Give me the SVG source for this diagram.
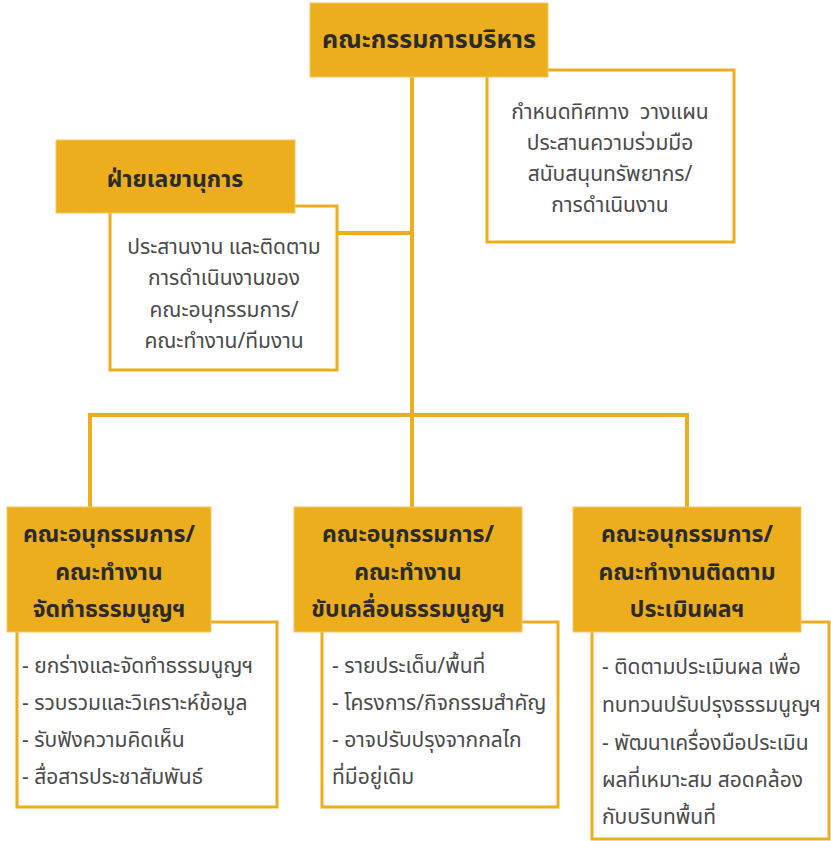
<svg xmlns="http://www.w3.org/2000/svg" width="831" height="841" viewBox="0 0 831 841">
<style>
.conn{stroke:#EDAE1E;stroke-width:4;fill:none}
.ob{fill:#EDAE1E;stroke:#F3C75E;stroke-width:1}
.wb{fill:#fff;stroke:#EDAE1E;stroke-width:3}
.h{font-family:"Noto Sans Thai","Noto Sans","DejaVu Sans",sans-serif;font-weight:bold;fill:#2b2b2b;text-anchor:middle}
.b{font-family:"Noto Sans Thai","Noto Sans","DejaVu Sans",sans-serif;fill:#4a4a4a;font-size:21px}
.c{text-anchor:middle}
</style>
<rect width="831" height="841" fill="#fff"/>
<g id="connectors">
<line class="conn" x1="412" y1="77" x2="412" y2="415"/>
<line class="conn" x1="337" y1="233" x2="412" y2="233"/>
<polyline class="conn" points="90,507 90,415 687,415 687,507"/>
<line class="conn" x1="412" y1="415" x2="412" y2="507"/>
</g>
<g id="board-desc">
<rect class="wb" x="487" y="70" width="247" height="172"/>
<text class="b c" x="610" y="119" xml:space="preserve">กำหนดทิศทาง  วางแผน</text>
<text class="b c" x="610" y="150">ประสานความร่วมมือ</text>
<text class="b c" x="610" y="181">สนับสนุนทรัพยากร/</text>
<text class="b c" x="610" y="212">การดำเนินงาน</text>
</g>
<g id="board">
<rect class="ob" x="310" y="3" width="238" height="74"/>
<text class="h" x="429" y="48" font-size="25">คณะกรรมการบริหาร</text>
</g>
<g id="secretariat-desc">
<rect class="wb" x="110" y="206" width="227" height="164"/>
<text class="b c" x="224" y="254">ประสานงาน และติดตาม</text>
<text class="b c" x="224" y="285">การดำเนินงานของ</text>
<text class="b c" x="224" y="317">คณะอนุกรรมการ/</text>
<text class="b c" x="224" y="348">คณะทำงาน/ทีมงาน</text>
</g>
<g id="secretariat">
<rect class="ob" x="56" y="140" width="239" height="73"/>
<text class="h" x="175" y="187" font-size="23">ฝ่ายเลขานุการ</text>
</g>
<g id="sub1-desc">
<rect class="wb" x="17" y="622" width="260" height="185"/>
<text class="b" x="22" y="673">- ยกร่างและจัดทำธรรมนูญฯ</text>
<text class="b" x="22" y="710">- รวบรวมและวิเคราะห์ข้อมูล</text>
<text class="b" x="22" y="747">- รับฟังความคิดเห็น</text>
<text class="b" x="22" y="784">- สื่อสารประชาสัมพันธ์</text>
</g>
<g id="sub1">
<rect class="ob" x="7" y="507" width="204" height="125"/>
<text class="h" x="109" y="542" font-size="23">คณะอนุกรรมการ/</text>
<text class="h" x="109" y="580" font-size="23">คณะทำงาน</text>
<text class="h" x="109" y="617" font-size="23">จัดทำธรรมนูญฯ</text>
</g>
<g id="sub2-desc">
<rect class="wb" x="322" y="622" width="236" height="185"/>
<text class="b" x="332" y="673">- รายประเด็น/พื้นที่</text>
<text class="b" x="332" y="710">- โครงการ/กิจกรรมสำคัญ</text>
<text class="b" x="332" y="747">- อาจปรับปรุงจากกลไก</text>
<text class="b" x="332" y="784">ที่มีอยู่เดิม</text>
</g>
<g id="sub2">
<rect class="ob" x="294" y="507" width="228" height="125"/>
<text class="h" x="408" y="542" font-size="23">คณะอนุกรรมการ/</text>
<text class="h" x="408" y="580" font-size="23">คณะทำงาน</text>
<text class="h" x="408" y="617" font-size="23">ขับเคลื่อนธรรมนูญฯ</text>
</g>
<g id="sub3-desc">
<rect class="wb" x="592" y="622" width="237" height="217"/>
<text class="b" x="602" y="674">- ติดตามประเมินผล เพื่อ</text>
<text class="b" x="602" y="712">ทบทวนปรับปรุงธรรมนูญฯ</text>
<text class="b" x="602" y="750">- พัฒนาเครื่องมือประเมิน</text>
<text class="b" x="602" y="787">ผลที่เหมาะสม สอดคล้อง</text>
<text class="b" x="602" y="824">กับบริบทพื้นที่</text>
</g>
<g id="sub3">
<rect class="ob" x="573" y="507" width="228" height="125"/>
<text class="h" x="687" y="542" font-size="23">คณะอนุกรรมการ/</text>
<text class="h" x="687" y="580" font-size="23">คณะทำงานติดตาม</text>
<text class="h" x="687" y="617" font-size="23">ประเมินผลฯ</text>
</g>
</svg>
